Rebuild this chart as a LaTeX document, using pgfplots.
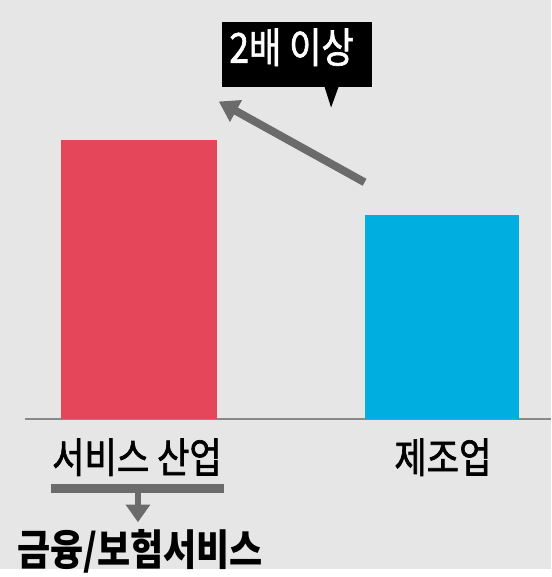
\documentclass[border=0pt]{standalone}
\usepackage{pgfplots}
\pgfplotsset{compat=1.18}
\usetikzlibrary{arrows.meta}
\usepackage{fontspec}
\newfontfamily\kr[FakeStretch=0.85]{Noto Sans CJK KR}
\newfontfamily\krm[FakeStretch=0.85,FakeBold=1.6]{Noto Sans CJK KR}
\definecolor{bg}{HTML}{E6E6E6}
\definecolor{redbar}{HTML}{E5465A}
\definecolor{bluebar}{HTML}{00AEDF}
\definecolor{arr}{HTML}{6B6B6B}
\begin{document}
\begin{tikzpicture}
\begin{axis}[
  scale only axis, width=559pt, height=577pt,
  xmin=0, xmax=559, ymin=-152, ymax=425,
  axis lines=none, clip=false,
]
\fill[bg] (axis cs:0,-152) rectangle (axis cs:559,425);
\draw[arr!80, line width=1.6pt] (axis cs:25,0) -- (axis cs:559,0);
\addplot[ybar, bar width=158, fill=redbar, draw=none] coordinates {(141,283)};
\addplot[ybar, bar width=157, fill=bluebar, draw=none] coordinates {(448.5,207)};
% callout
\fill[black] (axis cs:225,403) rectangle (axis cs:378,337);
\fill[black] (axis cs:329,338) -- (axis cs:344,338) -- (axis cs:336,316) -- cycle;
\node[text=white, font=\krm\fontsize{42}{44}\selectfont] at (axis cs:296,377) {2배 이상};
% arrow
\draw[arr, line width=8pt, -{Triangle[width=24pt,length=20pt]}] (axis cs:370,240) -- (axis cs:222,322);
% labels
\node[font=\krm\fontsize{42}{44}\selectfont] at (axis cs:139,-39) {서비스 산업};
\node[font=\krm\fontsize{42}{44}\selectfont] at (axis cs:449.5,-39) {제조업};
\fill[arr] (axis cs:52,-66) rectangle (axis cs:227,-75);
\draw[arr, line width=7pt, -{Triangle[width=24pt,length=18pt]}] (axis cs:140,-75) -- (axis cs:140,-105);
\node[font=\kr\bfseries\fontsize{43}{45}\selectfont] at (axis cs:142,-135) {금융/보험서비스};
\end{axis}
\end{tikzpicture}
\end{document}
